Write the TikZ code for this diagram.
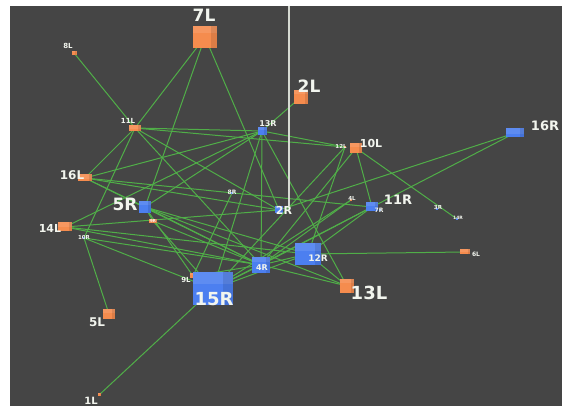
\documentclass[tikz,border=0pt]{standalone}
\usepackage{fontspec}
\setmainfont{DejaVu Sans}
\definecolor{bgdark}{HTML}{454545}
\definecolor{edgegreen}{HTML}{50AE48}
\definecolor{boxorange}{HTML}{F58C4E}
\definecolor{boxblue}{HTML}{4C7FF0}
\definecolor{labelwhite}{HTML}{F2F5EE}
\definecolor{polegray}{HTML}{D6DAD2}
\pgfdeclarelayer{edgelayer}
\pgfsetlayers{edgelayer,main}
\tikzset{
  cube/.style 2 args={draw=none, fill=#1, minimum width=#2, inner sep=0pt,
    path picture={\fill[white,opacity=0.10] (path picture bounding box.north west) rectangle ([yshift=-0.3*#2]path picture bounding box.north east);
                  \fill[black,opacity=0.10] ([xshift=-0.25*#2]path picture bounding box.north east) rectangle (path picture bounding box.south east);}},
  orbox/.style n args={2}{cube={boxorange}{#1}, minimum height=#2},
  blbox/.style n args={2}{cube={boxblue}{#1}, minimum height=#2},
  lab/.style={text=labelwhite, font=\bfseries\fontsize{#1}{#1}\selectfont, inner sep=0pt},
  edge/.style={draw=edgegreen, line width=1pt},
  pole/.style={draw=polegray, line width=1.8pt}
}
\begin{document}
\begin{tikzpicture}[x=1pt,y=-1pt]
\useasboundingbox (0,0) rectangle (563,406);
\begin{pgfonlayer}{edgelayer}
  \fill[white] (0,0) rectangle (563,406);
  \fill[bgdark] (10,6) rectangle (562,406);
\end{pgfonlayer}

% boxes: centre, width, height
\node[orbox={24pt}{22pt}] (n7L)  at (205,37)  {};
\node[orbox={5pt}{4pt}]   (n8L)  at (74,53)   {};
\node[orbox={14pt}{14pt}] (n2L)  at (301,97)  {};
\node[orbox={12pt}{6pt}]  (n11L) at (135,128) {};
\node[blbox={9pt}{8pt}]   (n13R) at (262,131) {};
\node[orbox={2pt}{2pt}]   (n12L) at (345,147) {};
\node[orbox={12pt}{10pt}] (n10L) at (356,148) {};
\node[blbox={18pt}{9pt}]  (n16R) at (515,133) {};
\node[orbox={14pt}{7pt}]  (n16L) at (85,178)  {};
\node[blbox={12pt}{12pt}] (n5R)  at (145,207) {};
\node[blbox={2pt}{2pt}]   (n8R)  at (232,193) {};
\node[blbox={8pt}{7pt}]   (n2R)  at (279,210) {};
\node[orbox={2pt}{2pt}]   (n4L)  at (351,200) {};
\node[blbox={12pt}{9pt}]  (n11R) at (372,207) {};
\node[blbox={2pt}{2pt}]   (n7R)  at (380,210) {};
\node[blbox={2pt}{2pt}]   (n3R)  at (437,209) {};
\node[blbox={2pt}{2pt}]   (n14R) at (457,219) {};
\node[orbox={14pt}{9pt}]  (n14L) at (65,227)  {};
\node[blbox={2pt}{2pt}]   (n10R) at (84,238)  {};
\node[orbox={8pt}{4pt}]   (n9R)  at (153,221) {};
\node[blbox={26pt}{22pt}] (n12R) at (308,254) {};
\node[blbox={18pt}{16pt}] (n4R)  at (261,265) {};
\node[orbox={10pt}{5pt}]  (n6L)  at (465,252) {};
\node[orbox={6pt}{5pt}]   (n9L)  at (193,276) {};
\node[blbox={40pt}{33pt}] (n15R) at (213,289) {};
\node[orbox={14pt}{14pt}] (n13L) at (347,286) {};
\node[orbox={12pt}{10pt}] (n5L)  at (109,314) {};
\node[orbox={3pt}{3pt}]   (n1L)  at (99,395)  {};

% connectors, under the boxes
\begin{pgfonlayer}{edgelayer}
\foreach \a/\b in {8L/11L, 7L/11L, 7L/5R, 7L/2R,
  11L/13R, 11L/12L, 11L/16L, 11L/10R, 11L/2R, 11L/4R,
  2L/13R,
  13R/16L, 13R/5R, 13R/4R, 13R/15R, 13R/12L, 13R/13L,
  12L/12R, 12L/15R,
  10L/11R, 10L/14R, 10L/4R,
  16R/2R, 16R/11R,
  16L/5R, 16L/2R, 16L/11R, 16L/4R,
  5R/9R, 5R/4R, 5R/9L, 5R/12R, 5R/13L,
  14L/12R, 14L/4R, 14L/13R, 14L/2R,
  10R/5L, 10R/15R, 10R/4R,
  9R/15R, 9R/4R,
  8R/9L, 4L/15R, 4L/4R,
  11R/4R, 11R/15R, 11R/12R,
  12R/6L, 12R/13L, 12R/4R, 12R/15R,
  4R/13L, 4R/15R, 4R/9L,
  15R/1L, 15R/9L}
  \draw[edge] (n\a.center) -- (n\b.center);
\end{pgfonlayer}

% the upright pole over 2R
\coordinate (poleTop)  at (289,6);
\coordinate (poleBase) at (289,206);
\draw[pole] (poleTop) -- (poleBase);

% labels
\node[lab=17]  (l7L)  at (204,15)  {7L};
\node[lab=7]   (l8L)  at (68,46)   {8L};
\node[lab=17]  (l2L)  at (309,86)  {2L};
\node[lab=7]   (l11L) at (128,121) {11L};
\node[lab=8]   (l13R) at (268,124) {13R};
\node[lab=5.5] (l12L) at (341,146) {12L};
\node[lab=11]  (l10L) at (371,143) {10L};
\node[lab=13]  (l16R) at (545,126) {16R};
\node[lab=12]  (l16L) at (72,175)  {16L};
\node[lab=17]  (l5R)  at (125,204) {5R};
\node[lab=6]   (l8R)  at (232,192) {8R};
\node[lab=11]  (l2R)  at (284,210) {2R};
\node[lab=5.5] (l4L)  at (352,198) {4L};
\node[lab=13]  (l11R) at (398,200) {11R};
\node[lab=6]   (l7R)  at (379,210) {7R};
\node[lab=5.5] (l3R)  at (438,207) {3R};
\node[lab=4.5] (l14R) at (458,218) {14R};
\node[lab=11]  (l14L) at (50,228)  {14L};
\node[lab=5.5] (l10R) at (84,237)  {10R};
\node[lab=4]   (l9R)  at (153,221) {9R};
\node[lab=9]   (l12R) at (318,258) {12R};
\node[lab=8]   (l4R)  at (262,268) {4R};
\node[lab=6]   (l6L)  at (476,254) {6L};
\node[lab=7]   (l9L)  at (186,280) {9L};
\node[lab=18]  (l15R) at (214,299) {15R};
\node[lab=18]  (l13L) at (369,293) {13L};
\node[lab=12]  (l5L)  at (97,322)  {5L};
\node[lab=10]  (l1L)  at (91,401)  {1L};
\end{tikzpicture}
\end{document}
